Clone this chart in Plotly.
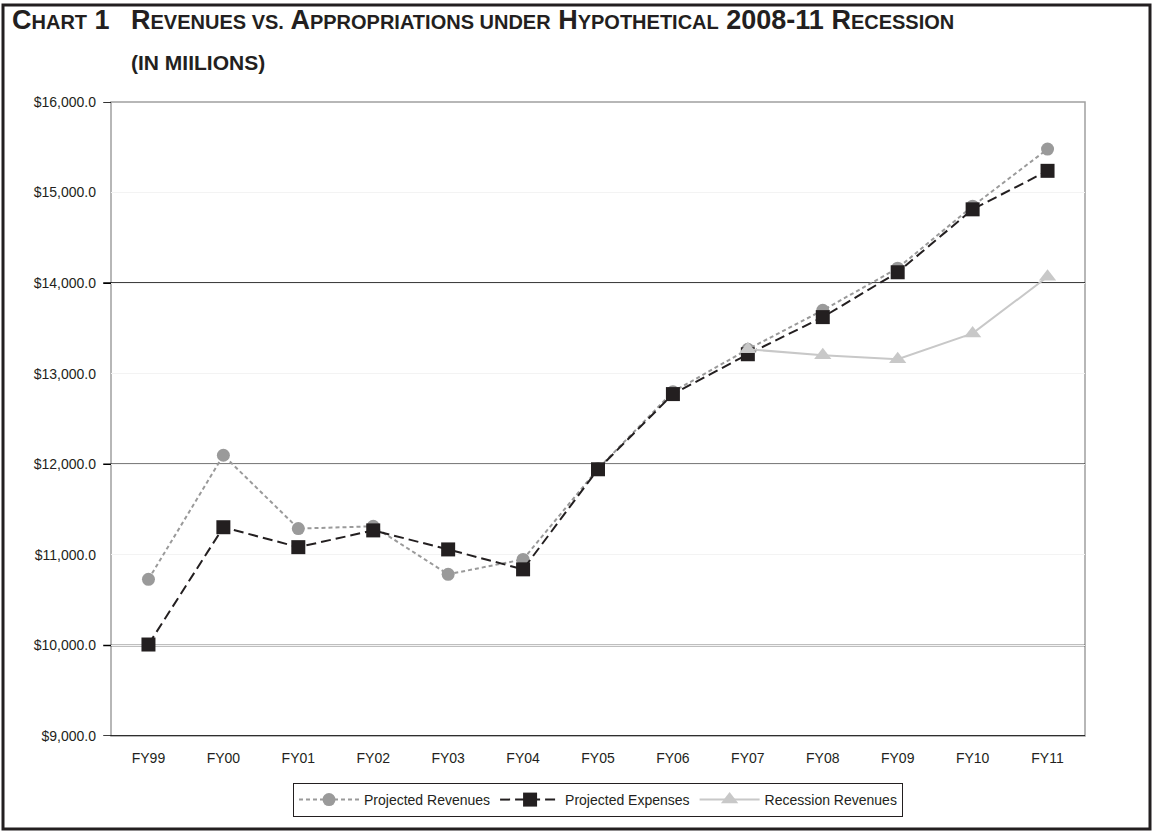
import plotly.graph_objects as go

# ---- data (millions of dollars) ----
fiscal_years = ["FY99", "FY00", "FY01", "FY02", "FY03", "FY04", "FY05",
                "FY06", "FY07", "FY08", "FY09", "FY10", "FY11"]
projected_revenues = [10730, 12100, 11290, 11315, 10785, 10950, 11950,
                      12800, 13270, 13700, 14165, 14850, 15480]
projected_expenses = [10010, 11305, 11085, 11270, 11060, 10840, 11945,
                      12775, 13215, 13625, 14120, 14815, 15240]
recession_years = ["FY07", "FY08", "FY09", "FY10", "FY11"]
recession_revenues = [13270, 13205, 13160, 13445, 14070]

y_min, y_max = 9000, 16000
major_grid = [10000, 12000, 14000]

# ---- page geometry ----
W, H = 1153, 831
ML, MR, MT, MB = 111, 68, 102, 95
PW, PH = W - ML - MR, H - MT - MB
INK = "#231f20"
FONT = "Liberation Sans, Arial, sans-serif"


def px_x(px):
    return (px - ML) / PW


def px_y(py):
    return (H - MB - py) / PH


fig = go.Figure()

fig.add_trace(go.Scatter(
    x=fiscal_years, y=projected_revenues, name="Projected Revenues",
    mode="lines+markers",
    line=dict(color="#9a9a9a", width=2, dash="4px,3px"),
    marker=dict(symbol="circle", size=13, color="#9a9a9a"),
    hoverinfo="skip",
))
fig.add_trace(go.Scatter(
    x=fiscal_years, y=projected_expenses, name="Projected Expenses",
    mode="lines+markers",
    line=dict(color=INK, width=2, dash="10px,5px"),
    marker=dict(symbol="square", size=14, color=INK),
    hoverinfo="skip",
))
fig.add_trace(go.Scatter(
    x=recession_years, y=recession_revenues, name="Recession Revenues",
    mode="lines+markers",
    line=dict(color="#c8c8c8", width=2),
    marker=dict(symbol="triangle-up", size=15, color="#c8c8c8"),
    hoverinfo="skip",
))

shapes = []
# plot frame (grey)
shapes.append(dict(type="rect", xref="paper", yref="paper", x0=0, x1=1, y0=0, y1=1,
                   line=dict(color="#a0a0a0", width=1.5), layer="below"))
# black gridlines with short outside ticks
for v in major_grid + [y_min]:
    shapes.append(dict(type="line", xref="paper", yref="y", x0=-0.008, x1=1, y0=v, y1=v,
                       line=dict(color="#000000", width=1.6), layer="below"))
shapes.append(dict(type="line", xref="paper", yref="y", x0=-0.008, x1=0, y0=y_max, y1=y_max,
                   line=dict(color="#000000", width=1.6), layer="below"))
# outer page border
shapes.append(dict(type="rect", xref="paper", yref="paper",
                   x0=px_x(3), x1=px_x(1150), y0=px_y(829), y1=px_y(5),
                   line=dict(color=INK, width=3), layer="below"))

title_font = dict(family=FONT, size=27, color=INK)
sc = '<span style="font-size:20px">{}</span>'
annotations = [
    dict(text="<b>C" + sc.format("HART") + " 1</b>",
         xref="paper", yref="paper", x=px_x(10), y=px_y(37),
         xanchor="left", yanchor="bottom", showarrow=False, font=title_font),
    dict(text="<b>R" + sc.format("EVENUES VS.") + " A" + sc.format("PPROPRIATIONS UNDER")
         + " H" + sc.format("YPOTHETICAL") + " 2008-11 R" + sc.format("ECESSION") + "</b>",
         xref="paper", yref="paper", x=px_x(129), y=px_y(37),
         xanchor="left", yanchor="bottom", showarrow=False, font=title_font),
    dict(text="<b>(IN MIILIONS)</b>",
         xref="paper", yref="paper", x=px_x(129), y=px_y(76),
         xanchor="left", yanchor="bottom", showarrow=False,
         font=dict(family=FONT, size=21, color=INK)),
]

fig.update_layout(
    width=W, height=H,
    margin=dict(l=ML, r=MR, t=MT, b=MB),
    paper_bgcolor="white", plot_bgcolor="white",
    font=dict(family=FONT, size=14, color=INK),
    xaxis=dict(
        type="category", categoryorder="array", categoryarray=fiscal_years,
        range=[-0.5, len(fiscal_years) - 0.5],
        showgrid=False, showline=False, zeroline=False, ticks="",
        ticklabelstandoff=12, tickfont=dict(size=14, color=INK),
    ),
    yaxis=dict(
        range=[y_min, y_max], dtick=1000, tick0=y_min,
        tickprefix="$", tickformat=",.1f",
        showgrid=True, gridcolor="#f3f3f3", gridwidth=1,
        showline=False, zeroline=False, ticks="",
        ticklabelstandoff=14, tickfont=dict(size=14, color=INK),
    ),
    showlegend=True,
    legend=dict(
        orientation="h", x=0.5, xanchor="center", y=px_y(783), yanchor="top",
        bordercolor=INK, borderwidth=1, bgcolor="white",
        font=dict(size=14, color=INK), itemwidth=60, tracegroupgap=0,
    ),
    shapes=shapes,
    annotations=annotations,
)

fig.write_html("out.html")
